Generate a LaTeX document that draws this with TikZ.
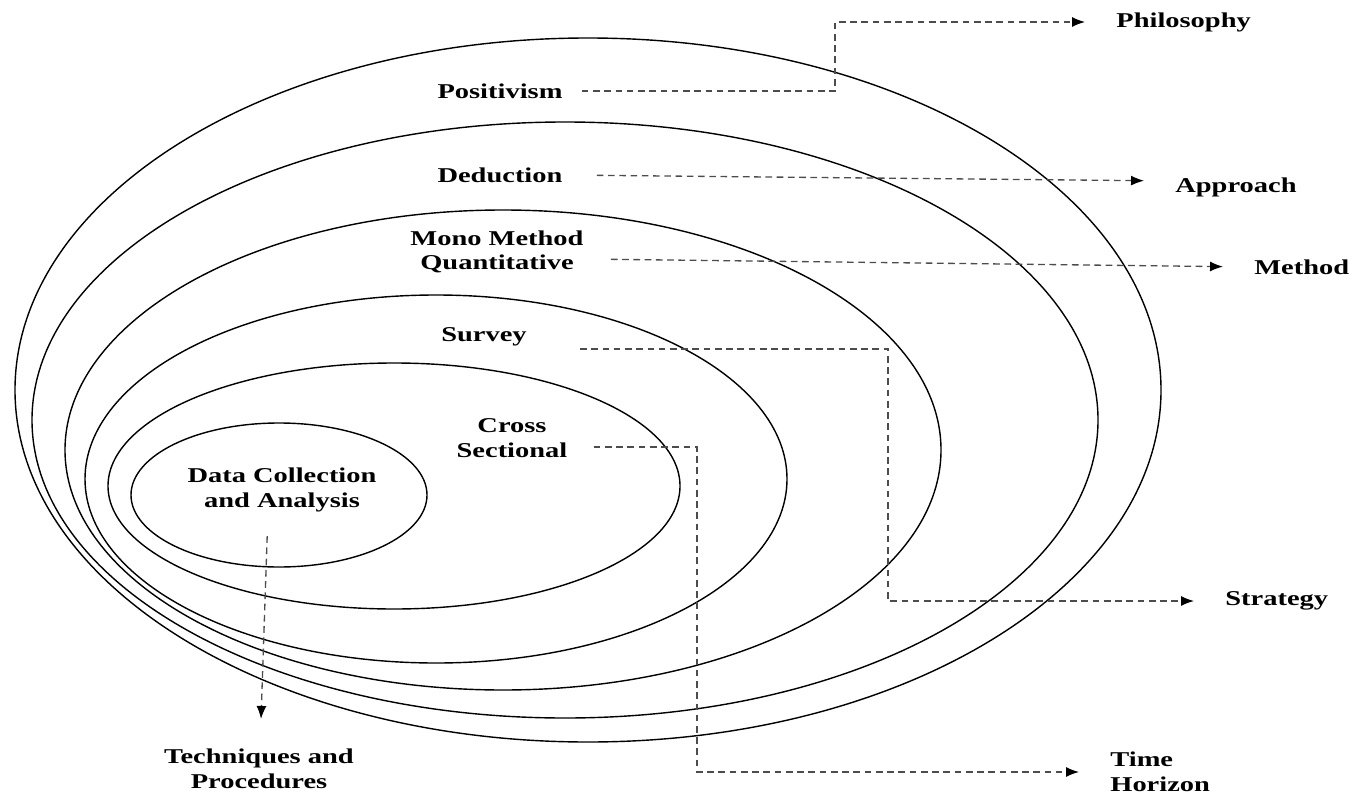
\documentclass[tikz,border=0pt]{standalone}
\usepackage{fontspec}
\setmainfont{Liberation Serif}[FakeStretch=1.35]
\usetikzlibrary{arrows.meta,calc,positioning}

\begin{document}
\begin{tikzpicture}[x=0.02cm,y=-0.02cm,>={Latex[length=2.6mm,width=2mm,color=black]},
    font=\fontsize{12}{14}\selectfont\bfseries,
    every node/.style={align=center,inner sep=0pt},
    ring/.style={line width=0.8pt},
    conn/.style={->,line width=0.75pt,black!70,dash pattern=on 3.8pt off 2.6pt,shorten >=0.62cm},
    outlbl/.style={anchor=west}]
    \useasboundingbox (0,0) rectangle (1354,797);
    % onion layers, outside in
    \draw[ring] (588,390) ellipse [x radius=573,y radius=352];
    \draw[ring] (565,420) ellipse [x radius=533,y radius=298];
    \draw[ring] (503,450) ellipse [x radius=438,y radius=240];
    \draw[ring] (436,479) ellipse [x radius=351,y radius=184];
    \draw[ring] (394,486) ellipse [x radius=286,y radius=123];
    \draw[ring] (279,495) ellipse [x radius=148,y radius=72];
    % layer labels
    \node (positivism) at (500,91) {Positivism};
    \node (deduction) at (500,175) {Deduction};
    \node (mono) at (497,252) {Mono Method\\Quantitative};
    \node (survey) at (484,337) {Survey};
    \node (cross) at (512,438) {Cross\\Sectional};
    \node (datacoll) at (282,490) {Data Collection\\and Analysis};
    \node (techniques) at (259,769) {Techniques and\\Procedures};
    % outside labels
    \node[outlbl] (philosophy) at (1116,22) {Philosophy};
    \node[outlbl] (approach) at (1175,187) {Approach};
    \node[outlbl] (method) at (1254,267) {Method};
    \node[outlbl] (strategy) at (1225,601) {Strategy};
    \node[outlbl,align=left] (timehor) at (1110,772) {Time\\Horizon};
    % turning points
    \coordinate (pturn) at (835,0);
    \coordinate (sturn) at (888,0);
    \coordinate (cturn) at (697,0);
    \draw[conn,shorten <=0.38cm] (positivism.east) -| (pturn |- philosophy.west) -- (philosophy.west);
    \draw[conn,shorten <=0.68cm] (deduction.east) -- ([yshift=0.12cm]approach.west);
    \draw[conn,shorten <=0.54cm] ([yshift=-0.14cm]mono.east) -- (method.west);
    \draw[conn,shorten <=1.06cm] ([yshift=-0.24cm]survey.east) -| (sturn |- strategy.west) -- (strategy.west);
    \draw[conn,shorten <=0.52cm] ([yshift=-0.18cm]cross.east) -| (cturn |- timehor.west) -- (timehor.west);
    \draw[conn,shorten <=0.48cm,shorten >=0.6cm] ([xshift=-0.28cm]datacoll.south) -- ([xshift=0.02cm]techniques.north);
\end{tikzpicture}
\end{document}
